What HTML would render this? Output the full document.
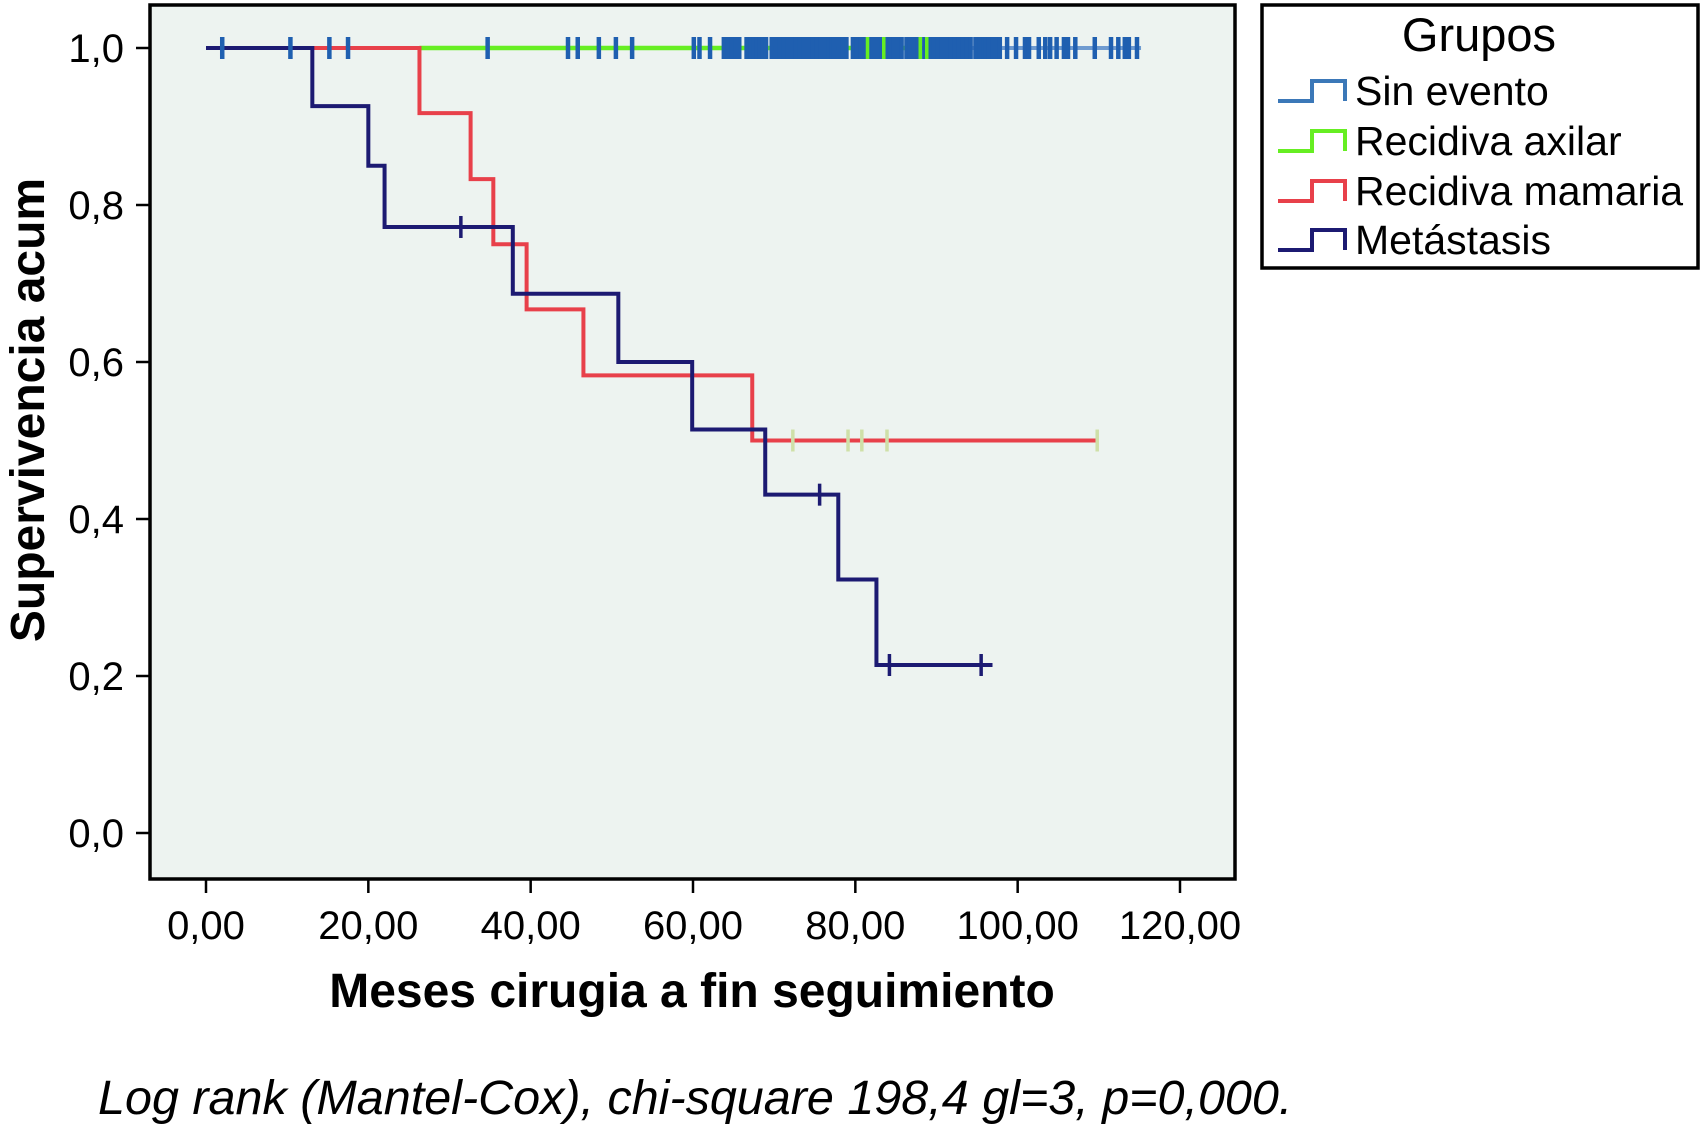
<!DOCTYPE html>
<html><head><meta charset="utf-8"><style>
body{margin:0;background:#fff;width:1701px;height:1125px;overflow:hidden}
svg{position:absolute;left:0;top:0}
text{font-family:"Liberation Sans",sans-serif;fill:#000}
</style></head><body>
<svg id="chart" width="1701" height="1125"></svg>
<script>
const yTicks=[0,0.2,0.4,0.6,0.8,1.0];
const yTickLabels=["0,0","0,2","0,4","0,6","0,8","1,0"];
const xTicks=[0,20,40,60,80,100,120];
const xTickLabels=["0,00","20,00","40,00","60,00","80,00","100,00","120,00"];
const metTimes=[0,13.1,20.0,22.0,37.8,50.8,59.9,68.9,77.9,82.6,96.9];
const metSurv=[1.0,0.926,0.850,0.772,0.687,0.600,0.514,0.431,0.323,0.214,0.214];
const metCensor=[31.4,75.6,84.2,95.5];
const mamTimes=[0,26.3,32.6,35.4,39.5,46.5,67.3,109.8];
const mamSurv=[1.0,0.917,0.833,0.750,0.667,0.583,0.500,0.500];
const mamCensor=[72.3,79.1,80.8,83.9,109.8];
const axTimes=[26.3,89.0];
const axSurv=[1.0,1.0];
const axCensor=[81.5,83.5,88.0,88.8];
const sinTimes=[60.0,115.2];
const sinSurv=[1.0,1.0];
const sinCensor=[2.0,10.4,15.2,17.5,34.7,44.6,45.8,48.4,50.5,52.5,60.1,60.8,62.1,
63.8,64.3,64.8,65.3,65.7,66.6,67.1,67.5,67.9,68.2,68.6,69.0,
69.7,70.2,70.7,71.2,71.7,72.2,72.7,73.2,73.7,74.2,74.7,75.2,75.7,76.2,76.7,77.1,
77.4,77.9,78.4,78.9,79.7,80.2,80.7,81.2,81.7,82.2,82.7,83.2,83.7,84.2,84.7,85.2,85.7,86.3,
86.7,87.2,87.7,88.5,89.2,89.7,90.2,90.7,91.2,91.7,92.2,92.7,93.2,93.7,94.2,
94.8,95.3,95.8,96.1,96.4,96.9,97.3,97.8,98.7,99.8,100.9,101.4,102.6,103.4,104.0,104.8,105.7,106.2,107.1,109.5,111.5,112.4,113.2,113.7,114.7];

const X0=206,X1=1180,Y0=833,Y1=48;
const sx=v=>X0+(X1-X0)*v/120;
const sy=v=>Y0-(Y0-Y1)*v;
const svg=document.getElementById('chart');
const NS='http://www.w3.org/2000/svg';
function mk(tag,attrs,parent){const e=document.createElementNS(NS,tag);for(const k in attrs)e.setAttribute(k,attrs[k]);(parent||svg).appendChild(e);return e;}

const bg=mk('rect',{x:150,y:5,width:1085,height:874,fill:'#edf3f0',stroke:'#000','stroke-width':3.5});



yTicks.forEach((v,i)=>{
  const t=mk('line',{x1:136,x2:150,y1:sy(v),y2:sy(v),stroke:'#000','stroke-width':2.5});
  
  
  const l=mk('text',{x:124,y:sy(v)+14,'text-anchor':'end','font-size':40});
  l.textContent=yTickLabels[i];
  
  
});
xTicks.forEach((v,i)=>{
  const t=mk('line',{x1:sx(v),x2:sx(v),y1:879,y2:893,stroke:'#000','stroke-width':2.5});
  
  
  const l=mk('text',{x:sx(v),y:939,'text-anchor':'middle','font-size':40});
  l.textContent=xTickLabels[i];
  
  
});

function stepPath(ts,ss){let d='M'+sx(ts[0])+','+sy(ss[0]);for(let i=1;i<ts.length;i++){d+=' H'+sx(ts[i])+' V'+sy(ss[i]);}return d;}
function survAt(ts,ss,t){let s=ss[0];for(let i=0;i<ts.length;i++){if(ts[i]<=t)s=ss[i];}return s;}
function series(name,ts,ss,cs,color,ccolor,w){
  const p=mk('path',{d:stepPath(ts,ss),fill:'none',stroke:color,'stroke-width':w});
  
  
  cs.forEach(c=>{
    const y=sy(survAt(ts,ss,c));
    const t=mk('line',{x1:sx(c),x2:sx(c),y1:y-11,y2:y+11,stroke:ccolor,'stroke-width':3.5});
    
    
  });
}
series('sin-evento',sinTimes,sinSurv,[],'#6f9bd0','#1f5fb0',4);
series('recidiva-axilar',axTimes,axSurv,[],'#66ee22','#66ee22',4.5);
series('recidiva-mamaria',mamTimes,mamSurv,mamCensor,'#e8404a','#cfe0a8',4);
series('metastasis',metTimes,metSurv,metCensor,'#1c1a72','#1c1a72',4);
sinCensor.forEach(c=>{
  const t=mk('line',{x1:sx(c),x2:sx(c),y1:sy(1)-11,y2:sy(1)+11,stroke:'#1f5fb0','stroke-width':4.5});
  
  
});
axCensor.forEach(c=>{
  const t=mk('line',{x1:sx(c),x2:sx(c),y1:sy(1)-11,y2:sy(1)+11,stroke:'#66ee22','stroke-width':3.5});
  
  
});
</script>
<svg width="1701" height="1125" style="pointer-events:none">
<text x="27" y="410" transform="rotate(-90 27 410)" text-anchor="middle" font-size="48" font-weight="bold" dy="17">Supervivencia acum</text>
<text x="692" y="1007" text-anchor="middle" font-size="48" font-weight="bold">Meses cirugia a fin seguimiento</text>
<text x="98" y="1114" font-size="48.5" font-style="italic">Log rank (Mantel-Cox), chi-square 198,4 gl=3, p=0,000.</text>
<g>
<rect x="1262" y="5" width="436" height="263" fill="#fff" stroke="#000" stroke-width="3.5"/>
<text x="1479" y="51" text-anchor="middle" font-size="47">Grupos</text>
<g><path d="M1278,101 H1312 V81 H1345 V101" fill="none" stroke="#3b78b8" stroke-width="4"/><text x="1355" y="105" font-size="41">Sin evento</text></g>
<g><path d="M1278,151 H1312 V131 H1345 V151" fill="none" stroke="#66ee22" stroke-width="4"/><text x="1355" y="155" font-size="41">Recidiva axilar</text></g>
<g><path d="M1278,201 H1312 V181 H1345 V201" fill="none" stroke="#e8404a" stroke-width="4"/><text x="1355" y="205" font-size="41">Recidiva mamaria</text></g>
<g><path d="M1278,250 H1312 V230 H1345 V250" fill="none" stroke="#1c1a72" stroke-width="4"/><text x="1355" y="254" font-size="41">Metástasis</text></g>
</g>
</svg>
</body></html>
